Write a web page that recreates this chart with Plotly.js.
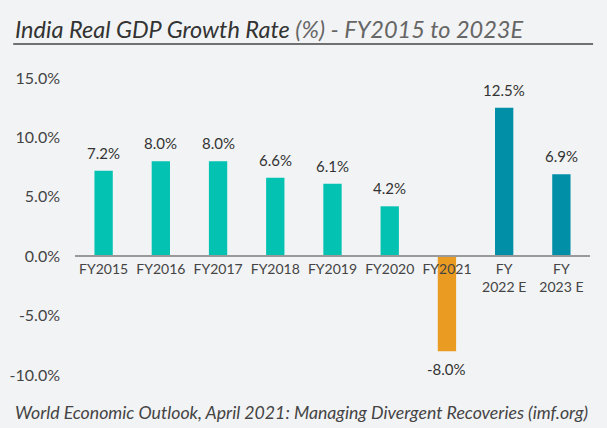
<!DOCTYPE html>
<html><head><meta charset="utf-8">
<script src="https://cdn.plot.ly/plotly-3.0.1.min.js"></script>
<style>html,body{margin:0;padding:0;background:#f2f3f5;}#c{width:607px;height:428px;}</style>
</head><body><div id="c"></div>
<script>
var categories = ["FY2015","FY2016","FY2017","FY2018","FY2019","FY2020","FY2021","FY<br>2022 E","FY<br>2023 E"];
var growth = [7.2, 8.0, 8.0, 6.6, 6.1, 4.2, -8.0, 12.5, 6.9];
var barColors = ["#03c2b2","#03c2b2","#03c2b2","#03c2b2","#03c2b2","#03c2b2","#e99c21","#008fa7","#008fa7"];
var labels = growth.map(function(v){return v.toFixed(1)+"%";});

var font = "Lato, 'Open Sans', sans-serif";
var annotations = growth.map(function(v,i){
  return {x: categories[i], y: v, xref:'x', yref:'y', text: labels[i], showarrow:false,
    yanchor: v>=0 ? 'bottom':'top', yshift: v>=0 ? 7 : -7,
    font:{family:font,size:15,color:'#333'}};
});
annotations.push({xref:'paper',yref:'paper',x:-0.12,xanchor:'left',y:1.165,yanchor:'middle',
  text:"<i>India Real GDP Growth Rate <span style='color:#666'>(%) - FY2015 to 2023E</span></i>",
  showarrow:false, font:{family:font,size:23.5,color:'#333'}});
annotations.push({xref:'paper',yref:'paper',x:-0.12,xanchor:'left',y:-0.125,yanchor:'middle',
  text:"<i>World Economic Outlook, April 2021: Managing Divergent Recoveries (imf.org)</i>",
  showarrow:false, font:{family:font,size:17.7,color:'#444'}});

var trace = {type:'bar', x: categories, y: growth, marker:{color: barColors}, width:0.32, hoverinfo:'none'};
var layout = {
  width:607, height:428, paper_bgcolor:'#f2f3f5', plot_bgcolor:'#f2f3f5',
  margin:{l:75,r:17,t:78,b:53},
  showlegend:false,
  xaxis:{anchor:'free', position:0.4, showline:true, linecolor:'#999', linewidth:2,
    ticks:'', tickfont:{family:font,size:14,color:'#444'}, showgrid:false, zeroline:false, fixedrange:true},
  yaxis:{range:[-10,15], tickvals:[-10,-5,0,5,10,15], ticktext:["-10.0%","-5.0%","0.0%","5.0%","10.0%","15.0%"],
    showgrid:false, zeroline:false, showline:false, ticks:'', ticklabelstandoff:14,
    tickfont:{family:font,size:16,color:'#444'}, fixedrange:true},
  annotations: annotations,
  shapes:[{type:'line', xref:'paper', yref:'paper', x0:-0.12, x1:1.006, y0:1.1145, y1:1.1145, line:{color:'#444',width:1.5}}]
};
Plotly.newPlot('c',[trace],layout,{displayModeBar:false,staticPlot:true});
</script></body></html>
